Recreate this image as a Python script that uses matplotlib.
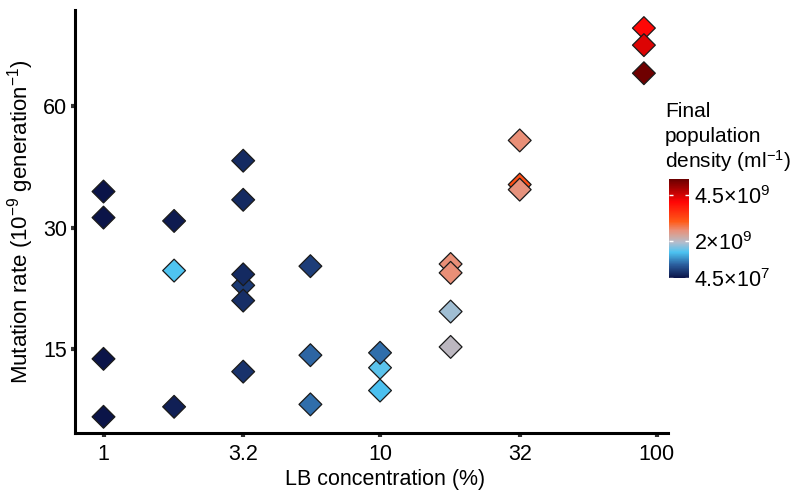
import matplotlib
matplotlib.use("Agg")
import matplotlib.pyplot as plt
from matplotlib.colors import LinearSegmentedColormap
from matplotlib.ticker import FixedLocator, NullLocator

plt.rcParams['font.family'] = ['Liberation Sans', 'DejaVu Sans']
plt.rcParams['mathtext.fontset'] = 'custom'
plt.rcParams['mathtext.rm'] = 'Liberation Sans'
plt.rcParams['mathtext.it'] = 'Liberation Sans'
plt.rcParams['mathtext.default'] = 'regular'

# LB concentration (%), mutation rate (1e-9 per generation), final density (per ml)
conc = [1, 1, 1, 1,
        1.8, 1.8, 1.8,
        3.2, 3.2, 3.2, 3.2, 3.2, 3.2,
        5.6, 5.6, 5.6,
        10, 10, 10,
        18, 18, 18, 18,
        32, 32, 32,
        90, 90, 90]
rate = [36.9, 31.8, 14.2, 10.2,
        31.2, 23.5, 10.8,
        44.0, 35.2, 21.6, 23.0, 19.8, 13.2,
        24.1, 14.5, 10.95,
        13.5, 14.7, 11.85,
        24.4, 23.2, 18.6, 15.2,
        49.4, 38.4, 37.3,
        93.8, 85.1, 72.5]
density = [6e7, 5e7, 6e7, 5e7,
           1.2e8, 1.45e9, 1.5e8,
           2.5e8, 2.5e8, 4e8, 2.5e8, 3e8, 3.5e8,
           4.5e8, 8e8, 8.5e8,
           1.5e9, 8.5e8, 1.4e9,
           2.6e9, 2.6e9, 1.85e9, 2.05e9,
           2.6e9, 3.2e9, 2.55e9,
           4.1e9, 4.4e9, 5.3e9]

x_ticks = [1, 3.2, 10, 32, 100]
x_ticklabels = ['1', '3.2', '10', '32', '100']
y_ticks = [15, 30, 60]
cbar_ticks = [4.5e7, 2e9, 4.5e9]
cbar_labels = [r'$4.5{\times}10^7$', r'$2{\times}10^9$', r'$4.5{\times}10^9$']
legend_title = ['Final', 'population', 'density (ml$^{-1}$)']

cmap = LinearSegmentedColormap.from_list('dens', [
    (0.00, '#0b1448'), (0.13, '#2a5c9c'), (0.26, '#4cc4f2'),
    (0.36, '#b4bccc'), (0.42, '#d0a8a0'), (0.48, '#e8907a'),
    (0.57, '#ff5a18'), (0.77, '#ff0505'), (1.00, '#6a0000')])

fs = 15.5

fig = plt.figure(figsize=(8, 5), dpi=100)
ax = fig.add_axes([0.094, 0.134, 0.741, 0.846])

sc = ax.scatter(conc, rate, c=density, cmap=cmap, vmin=4e7, vmax=5.35e9,
                marker='D', s=135, edgecolors='#1a1a1a', linewidths=0.9, zorder=3)

ax.set_xscale('log')
ax.set_yscale('log')
ax.set_xlim(0.79, 110)
ax.set_ylim(9.3, 104)

ax.xaxis.set_major_locator(FixedLocator(x_ticks))
ax.set_xticklabels(x_ticklabels)
ax.xaxis.set_minor_locator(NullLocator())
ax.yaxis.set_major_locator(FixedLocator(y_ticks))
ax.set_yticklabels([str(t) for t in y_ticks])
ax.yaxis.set_minor_locator(NullLocator())

for side in ['top', 'right']:
    ax.spines[side].set_visible(False)
for side in ['left', 'bottom']:
    ax.spines[side].set_linewidth(2.2)
    ax.spines[side].set_color('black')

ax.tick_params(axis='both', length=3, width=3, color='#333333',
               labelsize=fs)
ax.tick_params(axis='x', pad=5)
ax.tick_params(axis='y', pad=3)

ax.set_xlabel('LB concentration (%)', fontsize=fs)
ax.xaxis.set_label_coords(0.523, -0.085)
ax.set_ylabel('Mutation rate (10$^{-9}$ generation$^{-1}$)', fontsize=fs + 0.5, labelpad=5)

# colour bar
cax = fig.add_axes([0.836, 0.444, 0.025, 0.198])
cb = fig.colorbar(sc, cax=cax)
cb.outline.set_visible(False)
cb.set_ticks(cbar_ticks)
cb.set_ticklabels(cbar_labels)
cax.tick_params(length=3, width=1, color='white', direction='in',
                left=True, right=True, labelsize=fs, pad=4)

for i, line in enumerate(legend_title):
    fig.text(0.831, 0.766 - i * 0.051, line, fontsize=fs - 0.5,
             ha='left', va='baseline')

fig.savefig('out.png', dpi=100)
